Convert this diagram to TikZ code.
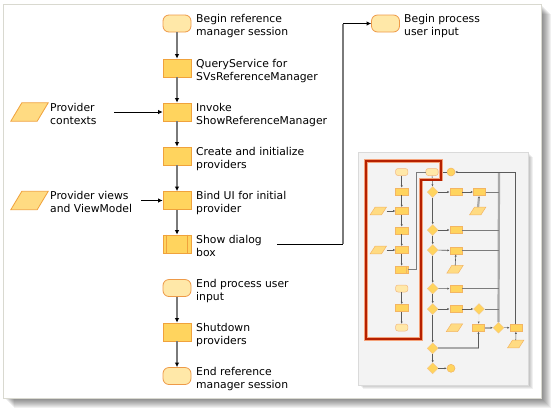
\documentclass[tikz,border=0pt]{standalone}
\usepackage{fontspec}
\setmainfont{DejaVu Sans}
\usetikzlibrary{shapes.geometric,arrows.meta}
\definecolor{procfill}{HTML}{FFD45E}
\definecolor{procdraw}{HTML}{F0A23C}
\definecolor{termfill}{HTML}{FFE8A8}
\definecolor{termdraw}{HTML}{EE9A48}
\definecolor{parafill}{HTML}{FFDB82}
\definecolor{flowgray}{HTML}{7A7A7A}
\definecolor{thinline}{HTML}{5A5A5A}
\definecolor{barfill}{HTML}{A9A9A9}
\definecolor{panelfill}{HTML}{F3F3F3}
\definecolor{panelline}{HTML}{DADADA}
\definecolor{framecol}{HTML}{D9D9D0}
\definecolor{hilite}{HTML}{B52000}
\definecolor{hiliteglow}{HTML}{F4A27A}
\tikzset{
  term/.style={draw=termdraw,fill=termfill,line width=0.8pt,rounded corners=6pt,minimum width=28pt,minimum height=17pt,inner sep=0pt},
  proc/.style={draw=procdraw,fill=procfill,line width=0.8pt,minimum width=28pt,minimum height=18pt,inner sep=0pt},
  para/.style={minimum width=37pt,minimum height=18pt,inner sep=0pt},
  parashape/.style={draw=procdraw,fill=parafill,line width=0.8pt},
  lbl/.style={anchor=north west,inner sep=0pt,align=left,font=\fontsize{10.8}{13}\selectfont},
  flow/.style={draw=flowgray,line width=1.8pt,-{Latex[length=4.5pt,width=4.5pt,color=black]}},
  feed/.style={draw=black,line width=0.8pt,-{Latex[length=4.5pt,width=4.5pt]}},
  tterm/.style={draw=termdraw!70,fill=termfill,line width=0.5pt,rounded corners=2.5pt,minimum width=12.4pt,minimum height=7pt,inner sep=0pt},
  tproc/.style={draw=procdraw!80,fill=procfill,line width=0.5pt,minimum width=12.4pt,minimum height=7.4pt,inner sep=0pt},
  tpara/.style={minimum width=16pt,minimum height=7.4pt,inner sep=0pt},
  tparashape/.style={draw=procdraw!80,fill=parafill,line width=0.5pt},
  tdia/.style={draw=procdraw!60,fill=procfill,line width=0.4pt,diamond,minimum width=11pt,minimum height=11pt,inner sep=0pt},
  tcirc/.style={draw=procdraw!80,fill=procfill,line width=0.5pt,circle,minimum size=8pt,inner sep=0pt},
  tarr/.style={draw=thinline,line width=0.6pt,-{Latex[length=2.2pt,width=2.2pt]}},
  tline/.style={draw=thinline!80,line width=0.7pt},
  tthick/.style={draw=barfill,line width=2.2pt},
}
\newcommand{\drawpara}[3]{\draw[#3] (#1.south west) -- ([xshift=#2]#1.north west) -- (#1.north east) -- ([xshift=-#2]#1.south east) -- cycle;}
\begin{document}
\begin{tikzpicture}[x=1pt,y=-1pt]
\useasboundingbox (0,0) rectangle (551,408);
% outer frame with shadow
\foreach \k in {1,...,10}{
  \fill[black,opacity=0.06] (3.5+\k,4+\k) rectangle (541+\k,398+\k);
}
\draw[framecol,fill=white,line width=0.8pt] (3.5,4) rectangle (541,398);

% main flow
\node[term] (bref) at (177,23.5) {};
\node[proc] (qs) at (177,68) {};
\node[proc] (inv) at (177,112) {};
\node[proc] (cre) at (177,156) {};
\node[proc] (bind) at (177,200.5) {};
\node[proc] (sd) at (177,244) {};
\draw[procdraw,line width=0.8pt] ([xshift=4pt]sd.north west) -- ([xshift=4pt]sd.south west);
\draw[procdraw,line width=0.8pt] ([xshift=-4pt]sd.north east) -- ([xshift=-4pt]sd.south east);
\node[term] (epu) at (177,288) {};
\node[proc] (shut) at (177,332) {};
\node[term] (eref) at (177,376) {};
\node[term] (bpu) at (385.5,23.5) {};
\node[para] (pc) at (29.5,112) {};
\node[para] (pv) at (29.5,200.5) {};
\drawpara{pc}{11pt}{parashape}
\drawpara{pv}{11pt}{parashape}

\node[lbl] (tbref) at (196,13.5) {\rule{0pt}{9pt}Begin reference\\manager session};
\node[lbl] (tqs) at (196,58) {\rule{0pt}{9pt}QueryService for\\SVsReferenceManager};
\node[lbl] (tinv) at (196,102) {\rule{0pt}{9pt}Invoke\\ShowReferenceManager};
\node[lbl] (tcre) at (196,146) {\rule{0pt}{9pt}Create and initialize\\providers};
\node[lbl] (tbind) at (196,190.5) {\rule{0pt}{9pt}Bind UI for initial\\provider};
\node[lbl] (tsd) at (196,234) {\rule{0pt}{9pt}Show dialog\\box};
\node[lbl] (tepu) at (196,278) {\rule{0pt}{9pt}End process user\\input};
\node[lbl] (tshut) at (196,322) {\rule{0pt}{9pt}Shutdown\\providers};
\node[lbl] (teref) at (196,366) {\rule{0pt}{9pt}End reference\\manager session};
\node[lbl] (tbpu) at (404,13.5) {\rule{0pt}{9pt}Begin process\\user input};
\node[lbl] (tpc) at (50,102) {\rule{0pt}{9pt}Provider\\contexts};
\node[lbl] (tpv) at (50,190.5) {\rule{0pt}{9pt}Provider views\\and ViewModel};

\draw[flow] (bref) -- (qs);
\draw[flow] (qs) -- (inv);
\draw[flow] (inv) -- (cre);
\draw[flow] (cre) -- (bind);
\draw[flow] (bind) -- (sd);
\draw[flow] (epu) -- (shut);
\draw[flow] (shut) -- (eref);

\coordinate (pcs) at (114,112);
\coordinate (pvs) at (141,200.5);
\draw[feed] (pcs) -- (inv.west);
\draw[feed] (pvs) -- (bind.west);

\coordinate (sds) at (277,244);
\coordinate (sdc1) at (343,244);
\coordinate (sdc2) at (343,23.5);
\draw[black,line width=0.8pt] (sds) -- (sdc1);
\draw[flowgray,line width=1.8pt] (sdc1) -- (sdc2);
\draw[feed] (sdc2) -- (bpu.west);

% thumbnail panel
\foreach \k in {1,...,4}{
  \fill[black,opacity=0.06] (358.5+\k,152.5+\k) rectangle (528.5+\k,385+\k);
}
\draw[panelline,fill=panelfill,line width=0.6pt] (358.5,152.5) rectangle (528.5,385);

% left column
\node[tterm] (t1) at (401.7,172) {};
\node[tproc] (b1) at (401.7,191.5) {};
\node[tproc] (b2) at (401.7,211) {};
\node[tproc] (b3) at (401.7,230.5) {};
\node[tproc] (b4) at (401.7,250) {};
\node[tproc] (s1) at (401.7,269.7) {};
\draw[procdraw!80,line width=0.5pt] ([xshift=-2pt]s1.north east) -- ([xshift=-2pt]s1.south east);
\node[tterm] (t2) at (401.7,288.5) {};
\node[tproc] (b5) at (401.7,308) {};
\node[tterm] (t3) at (401.7,327.5) {};
\node[tpara] (p1) at (378.3,211) {};
\node[tpara] (p2) at (378.3,250) {};
\drawpara{p1}{5pt}{tparashape}
\drawpara{p2}{5pt}{tparashape}
\draw[tarr] (t1) -- (b1);
\draw[tarr] (b1) -- (b2);
\draw[tarr] (b2) -- (b3);
\draw[tarr] (b3) -- (b4);
\draw[tarr] (b4) -- (s1);
\draw[tarr] (t2) -- (b5);
\draw[tarr] (b5) -- (t3);
\draw[tarr] (p1) -- (b2);
\draw[tarr] (p2) -- (b4);

% middle column
\node[tterm] (t4) at (432,172) {};
\node[tcirc] (k1) at (451,172) {};
\node[tdia] (d1) at (432.7,192) {};
\node[tdia] (d2) at (432.7,230) {};
\node[tdia] (d3) at (432.7,250) {};
\node[tdia] (d4) at (432.7,288.5) {};
\node[tdia] (d5) at (432.7,309) {};
\node[tdia] (d8) at (432.7,348.3) {};
\node[tdia] (d9) at (432.7,368.3) {};
\node[tcirc] (k2) at (451,368.3) {};
\node[tproc] (c1) at (456,192) {};
\node[tproc] (c2) at (479.5,192) {};
\node[tproc] (c3) at (456,230) {};
\node[tproc] (c4) at (456,250.5) {};
\node[tproc] (c5) at (456,288.7) {};
\node[tproc] (c6) at (456,309) {};
\node[tdia] (d6) at (479,309) {};
\node[tproc] (c7) at (478.5,327.7) {};
\node[tdia] (d7) at (498.5,327.7) {};
\node[tproc] (r3) at (516,327.7) {};
\node[tpara] (p3) at (477.7,211) {};
\node[tpara] (p4) at (455,269.3) {};
\node[tpara] (p5) at (454.5,327.7) {};
\node[tpara] (p6) at (515.7,344) {};
\drawpara{p3}{5pt}{tparashape}
\drawpara{p4}{5pt}{tparashape}
\drawpara{p5}{5pt}{tparashape}
\drawpara{p6}{5pt}{tparashape}

\coordinate (bartop) at (499,172);
\draw[tthick] (bartop) -- (d7.north);
\draw[tline] (c2.east) -- (499,192);
\draw[tline] (c3.east) -- (499,230);
\draw[tline] (c4.east) -- (499,250.5);
\draw[tline] (c5.east) -- (499,288.7);
\draw[tline] (d6.east) -- (499,309);

\draw[tline] (s1.east) -- (416,269.7) -- (416,172) -- (t4.west);
\draw[tarr] (k1) -- (t4);
\coordinate (r3top) at (515,323.9);
\draw[tarr] (r3top) -- (515,172) -- (k1.east);
\draw[tarr] (t4) -- (d1);
\draw[tarr] (d1) -- (d2);
\draw[tarr] (d2) -- (d3);
\draw[tarr] (d3) -- (d4);
\draw[tarr] (d4) -- (d5);
\draw[tarr] (d5) -- (d8);
\draw[tarr] (d8) -- (d9);
\draw[tarr] (d9) -- (k2);
\draw[tarr] (d1) -- (c1);
\draw[tarr] (c1) -- (c2);
\draw[tarr] (d2) -- (c3);
\draw[tarr] (d3) -- (c4);
\draw[tarr] (d4) -- (c5);
\draw[tarr] (d5) -- (c6);
\draw[tarr] (c6) -- (d6);
\draw[white!80!gray,line width=0.7pt,dash pattern=on 1pt off 1pt,-{Latex[length=2.2pt,width=2.2pt,color=thinline]}] (d6) -- (c7);
\draw[tthick,-{Latex[length=2.2pt,width=2.2pt,color=thinline]}] (c7) -- (d7);
\draw[tthick,line width=1.2pt,-{Latex[length=2.2pt,width=2.2pt,color=thinline]}] (d7) -- (r3);
\draw[tthick,-{Latex[length=2.2pt,width=2.2pt,color=thinline]}] (p3) -- (c2);
\draw[tarr] (p4) -- (c4);
\draw[tarr] (p6) -- (r3);
\coordinate (d8c) at (478.5,348.3);
\draw[tthick] (d8.east) -- (d8c);
\draw[tarr] (d8c) -- (c7.south);

% highlight outline
\draw[hiliteglow,line width=3.6pt] (366,161) -- (441,161) -- (441,179.5) -- (421,179.5) -- (421,339) -- (366,339) -- cycle;
\draw[hilite,line width=2pt] (366,161) -- (441,161) -- (441,179.5) -- (421,179.5) -- (421,339) -- (366,339) -- cycle;
\end{tikzpicture}
\end{document}
